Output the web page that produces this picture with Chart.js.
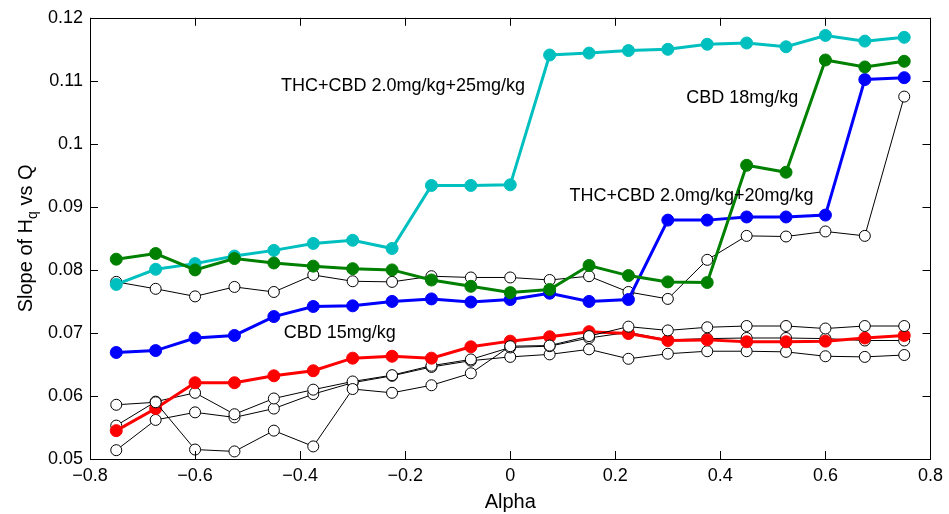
<!DOCTYPE html>
<html>
<head>
<meta charset="utf-8">
<script src="https://cdn.jsdelivr.net/npm/chart.js@4.4.1/dist/chart.umd.min.js"></script>
<style>
  body { margin: 0; background: #fff; }
  #wrap { width: 949px; height: 514px; }
</style>
</head>
<body>
<div id="wrap"><canvas id="chart" width="949" height="514"></canvas></div>
<script>
// x values (Alpha)
const alpha = [-0.75, -0.675, -0.6, -0.525, -0.45, -0.375, -0.3, -0.225, -0.15, -0.075, 0,
  0.075, 0.15, 0.225, 0.3, 0.375, 0.45, 0.525, 0.6, 0.675, 0.75];

// coloured series
const thc25 = [0.0777, 0.0801, 0.0810, 0.0822, 0.0831, 0.0842, 0.0847, 0.0834, 0.0934, 0.0934, 0.0935,
  0.1141, 0.1144, 0.1148, 0.1150, 0.1158, 0.1160, 0.1154, 0.1172, 0.1163, 0.1169];
const cbd18 = [0.0817, 0.0826, 0.0800, 0.0818, 0.0811, 0.0806, 0.0802, 0.0800, 0.0784, 0.0774, 0.0764,
  0.0769, 0.0807, 0.0791, 0.0781, 0.0780, 0.0966, 0.0955, 0.1133, 0.1122, 0.1131];
const thc20 = [0.0669, 0.0672, 0.0692, 0.0696, 0.0726, 0.0742, 0.0743, 0.0750, 0.0754, 0.0749, 0.0753,
  0.0763, 0.0750, 0.0753, 0.0879, 0.0879, 0.0884, 0.0884, 0.0887, 0.1102, 0.1105];
const cbd15 = [0.0545, 0.0580, 0.0621, 0.0621, 0.0632, 0.0640, 0.0660, 0.0663, 0.0660, 0.0678, 0.0687,
  0.0694, 0.0702, 0.0699, 0.0688, 0.0689, 0.0686, 0.0686, 0.0687, 0.0692, 0.0696];

// open-circle (control) series
const ctrlTop = [0.0781, 0.0770, 0.0758, 0.0773, 0.0765, 0.0792, 0.0782, 0.0781, 0.0790, 0.0788, 0.0788,
  0.0784, 0.0790, 0.0765, 0.0754, 0.0816, 0.0854, 0.0853, 0.0861, 0.0854, 0.1075];
const ctrlA = [0.0586, 0.0590, 0.0515, 0.0512, 0.0545, 0.0520, 0.0611, 0.0605, 0.0617, 0.0636, 0.0679,
  0.0680, 0.0695, 0.0710, 0.0704, 0.0709, 0.0711, 0.0711, 0.0707, 0.0711, 0.0711];
const ctrlB = [0.0553, 0.0591, 0.0605, 0.0571, 0.0596, 0.0610, 0.0623, 0.0633, 0.0648, 0.0658, 0.0677,
  0.0679, 0.0692, 0.0701, 0.0689, 0.0691, 0.0692, 0.0692, 0.0691, 0.0688, 0.0688];
const ctrlC = [0.0514, 0.0562, 0.0574, 0.0566, 0.0580, 0.0603, 0.0621, 0.0632, 0.0646, 0.0656, 0.0662,
  0.0666, 0.0674, 0.0659, 0.0667, 0.0671, 0.0671, 0.0670, 0.0663, 0.0662, 0.0665];

// text labels on the plot
const labelTexts = ["THC+CBD 2.0mg/kg+25mg/kg", "CBD 18mg/kg", "THC+CBD 2.0mg/kg+20mg/kg", "CBD 15mg/kg"];
const labelX = [-0.4366, 0.335, 0.1126, -0.431];
const labelY = [0.1092, 0.1073, 0.0917, 0.0700];

const xTicks = [-0.8, -0.6, -0.4, -0.2, 0, 0.2, 0.4, 0.6, 0.8];
const yTicks = [0.05, 0.06, 0.07, 0.08, 0.09, 0.1, 0.11, 0.12];

const FONT = "'Liberation Sans', Arial, Helvetica, sans-serif";

function pts(vals) {
  return alpha.map((a, i) => ({ x: a, y: vals[i] }));
}

function colored(vals, color, order) {
  return {
    data: pts(vals),
    borderColor: color,
    backgroundColor: color,
    borderWidth: 3,
    pointRadius: 6,
    pointBorderWidth: 1,
    pointBackgroundColor: color,
    pointBorderColor: color,
    order: order
  };
}

function openCircles(vals, order) {
  return {
    data: pts(vals),
    borderColor: "#000",
    borderWidth: 1,
    pointRadius: 5.5,
    pointBorderWidth: 1,
    pointBackgroundColor: "#fff",
    pointBorderColor: "#000",
    order: order
  };
}

// box, inward ticks, labels, axis titles
const decor = {
  id: "decor",
  afterDraw(chart) {
    const ctx = chart.ctx;
    const a = chart.chartArea;
    const xs = chart.scales.x, ys = chart.scales.y;
    ctx.save();
    ctx.strokeStyle = "#000";
    ctx.lineWidth = 1;
    ctx.strokeRect(Math.round(a.left) + 0.5, Math.round(a.top) + 0.5,
      Math.round(a.right - a.left), Math.round(a.bottom - a.top));

    ctx.beginPath();
    xTicks.forEach(t => {
      const px = Math.round(xs.getPixelForValue(t)) + 0.5;
      ctx.moveTo(px, a.bottom); ctx.lineTo(px, a.bottom - 8);
      ctx.moveTo(px, a.top); ctx.lineTo(px, a.top + 8);
    });
    yTicks.forEach(t => {
      const py = Math.round(ys.getPixelForValue(t)) + 0.5;
      ctx.moveTo(a.left, py); ctx.lineTo(a.left + 8, py);
      ctx.moveTo(a.right, py); ctx.lineTo(a.right - 8, py);
    });
    ctx.stroke();

    ctx.fillStyle = "#000";
    ctx.font = "18px " + FONT;
    ctx.textAlign = "left";
    ctx.textBaseline = "middle";
    labelTexts.forEach((txt, i) => {
      ctx.fillText(txt, xs.getPixelForValue(labelX[i]), ys.getPixelForValue(labelY[i]));
    });

    // x title
    ctx.font = "20px " + FONT;
    ctx.textAlign = "center";
    ctx.fillText("Alpha", (a.left + a.right) / 2, 502);

    // y title with subscript
    ctx.translate(32, (a.top + a.bottom) / 2);
    ctx.rotate(-Math.PI / 2);
    ctx.textBaseline = "alphabetic";
    ctx.textAlign = "left";
    const p1 = "Slope of H", sub = "q", p2 = " vs Q";
    ctx.font = "20px " + FONT;
    const w1 = ctx.measureText(p1).width, w3 = ctx.measureText(p2).width;
    ctx.font = "14px " + FONT;
    const w2 = ctx.measureText(sub).width;
    let x0 = -(w1 + w2 + w3) / 2;
    ctx.font = "20px " + FONT;
    ctx.fillText(p1, x0, 0);
    ctx.font = "14px " + FONT;
    ctx.fillText(sub, x0 + w1, 5);
    ctx.font = "20px " + FONT;
    ctx.fillText(p2, x0 + w1 + w2, 0);
    ctx.restore();
  }
};

new Chart(document.getElementById("chart"), {
  type: "line",
  data: {
    datasets: [
      openCircles(ctrlA, 0),
      colored(cbd15, "#ff0000", 1),
      colored(cbd18, "#008000", 2),
      colored(thc20, "#0000ff", 3),
      colored(thc25, "#00bfbf", 4),
      openCircles(ctrlB, 5),
      openCircles(ctrlC, 6),
      openCircles(ctrlTop, 7)
    ]
  },
  options: {
    responsive: false,
    animation: false,
    devicePixelRatio: 1,
    layout: { padding: { top: 15, right: 14, left: 0, bottom: 0 } },
    plugins: { legend: { display: false }, tooltip: { enabled: false } },
    elements: { line: { tension: 0 } },
    scales: {
      x: {
        type: "linear",
        min: -0.8, max: 0.8,
        afterBuildTicks: s => { s.ticks = xTicks.map(v => ({ value: v })); },
        afterFit: s => { s.height = 55; },
        grid: { display: false, drawTicks: false },
        border: { display: false },
        ticks: {
          color: "#000",
          font: { size: 18, family: FONT },
          padding: 6,
          maxRotation: 0,
          callback: v => {
            const r = Math.round(v * 10) / 10;
            return r < 0 ? "\u2212" + Math.abs(r) : String(r);
          }
        }
      },
      y: {
        min: 0.05, max: 0.12,
        afterBuildTicks: s => { s.ticks = yTicks.map(v => ({ value: v })); },
        afterFit: s => { s.width = 90; },
        grid: { display: false, drawTicks: false },
        border: { display: false },
        ticks: {
          color: "#000",
          font: { size: 18, family: FONT },
          padding: 7,
          callback: v => String(Math.round(v * 100) / 100)
        }
      }
    }
  },
  plugins: [decor]
});
</script>
</body>
</html>
